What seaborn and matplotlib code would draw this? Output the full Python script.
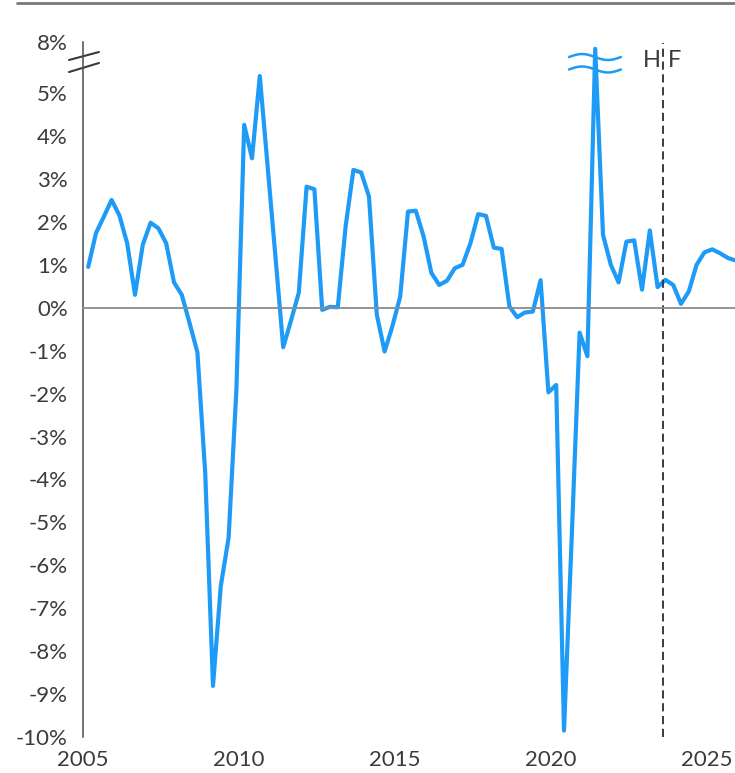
import numpy as np
import pandas as pd
import matplotlib
matplotlib.use("Agg")
import matplotlib.pyplot as plt
import seaborn as sns
from matplotlib.lines import Line2D

# quarterly growth, % (2005Q1 .. 2025Q4)
years = np.repeat(np.arange(2005, 2026), 4)
quarters = np.tile([1, 2, 3, 4], 21)
growth = [
    0.95, 1.74, 2.12, 2.51,
    2.15, 1.50, 0.30, 1.47,
    1.98, 1.85, 1.50, 0.59,
    0.30, -0.36, -1.04, -3.84,
    -8.81, -6.48, -5.36, -1.91,
    4.26, 3.48, 6.00, 3.30,
    1.20, -0.92, -0.30, 0.35,
    2.82, 2.76, -0.05, 0.02,
    0.01, 1.89, 3.21, 3.15,
    2.59, -0.16, -1.02, -0.43,
    0.26, 2.24, 2.26, 1.66,
    0.81, 0.53, 0.63, 0.92,
    1.00, 1.50, 2.18, 2.14,
    1.40, 1.37, 0.03, -0.22,
    -0.11, -0.09, 0.64, -1.97,
    -1.80, -9.85, -5.30, -0.58,
    -1.13, 7.60, 1.70, 1.00,
    0.59, 1.54, 1.57, 0.42,
    1.80, 0.48, 0.65, 0.53,
    0.09, 0.38, 1.00, 1.29,
    1.36, 1.27, 1.16, 1.10,
]
ytick_vals = [-10, -9, -8, -7, -6, -5, -4, -3, -2, -1, 0, 1, 2, 3, 4, 5, 8]
xtick_years = [2005, 2010, 2015, 2020, 2025]
split_year = 2023.59   # history / forecast
split_labels = ["H", "F"]

# axis is broken above 5%: 5..8 squeezed
def squeeze(v):
    v = np.asarray(v, dtype=float)
    return np.where(v > 5, 5 + (v - 5) * (1.19 / 3), v)

df = pd.DataFrame({
    "t": years + (quarters * 3 - 1) / 12,
    "g": squeeze(growth),
})

sns.set_theme(style="white")
plt.rcParams["font.family"] = ["Lato", "DejaVu Sans"]

fig = plt.figure(figsize=(7.35, 7.73), dpi=100)
ax = fig.add_axes([83 / 735, 36 / 773, 652 / 735, 695 / 773])

blue = "#1E9BF7"
dark = "#3a3a3f"

sns.lineplot(data=df, x="t", y="g", ax=ax, color=blue, lw=3.0, legend=False)

ax.set_xlim(2005, 2005 + 652 / 31.2)
ax.set_ylim(-10, float(squeeze(8)))
ax.set_xlabel("")
ax.set_ylabel("")

for s in ["top", "right"]:
    ax.spines[s].set_visible(False)
ax.spines["left"].set_color("#4a4a52")
ax.spines["left"].set_linewidth(1.1)
ax.spines["bottom"].set_position(("data", 0))
ax.spines["bottom"].set_color("#8a8a90")
ax.spines["bottom"].set_linewidth(1.3)

ax.set_yticks(squeeze(ytick_vals))
ax.set_yticklabels([f"{v}%" for v in ytick_vals])
ax.tick_params(axis="y", direction="out", length=6, width=1.1, color="#4a4a52",
               labelsize=16, labelcolor=dark, pad=5)
ax.set_xticks(xtick_years)
ax.tick_params(axis="x", direction="out", length=6, width=1.1, color="#8a8a90",
               labelbottom=False)

# year labels at the bottom of the plot
sec = ax.secondary_xaxis(0)
sec.set_xticks(xtick_years)
sec.set_xticklabels([str(y) for y in xtick_years])
sec.tick_params(length=0, labelsize=16, labelcolor=dark, pad=9)
sec.spines["bottom"].set_visible(False)

# history / forecast split
ax.axvline(split_year, ymin=0, ymax=0.998, color=dark, lw=1.4, dashes=(4.2, 2.4))
ax.text(split_year - 0.36, 5.77, split_labels[0], ha="center", va="center",
        fontsize=17, color=dark)
ax.text(split_year + 0.38, 5.77, split_labels[1], ha="center", va="center",
        fontsize=17, color=dark)

# break marks on y axis
for y0, y1 in [(0.9741, 0.9856), (0.9568, 0.9698)]:
    ax.plot([-0.0215, 0.0245], [y0, y1], transform=ax.transAxes,
            color=dark, lw=1.5, clip_on=False)

# break marks on the 2021 spike
wx = np.linspace(2020.58, 2022.24, 30)
wave = 0.07 * np.sin(2 * np.pi * (wx - wx[0]) / (wx[-1] - wx[0]))
for yc in [5.84, 5.55]:
    ax.plot(wx, yc + wave, color=blue, lw=1.8)

# rule across the top
fig.add_artist(Line2D([17 / 735, 1], [1 - 3 / 773, 1 - 3 / 773],
                      color="#77777f", lw=2))

fig.savefig("out.png", dpi=100)
